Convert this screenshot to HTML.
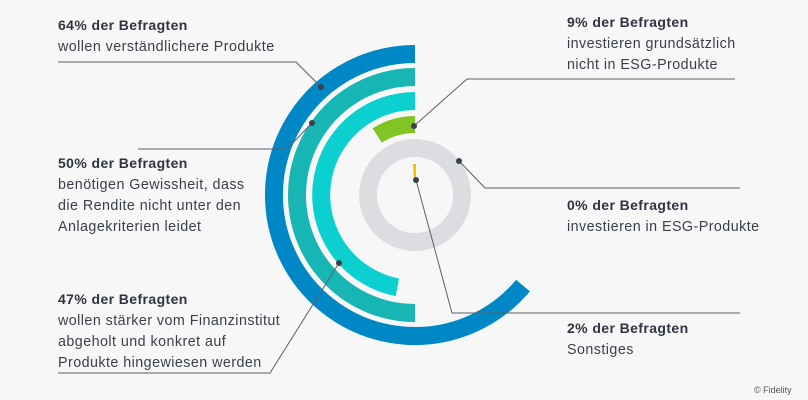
<!DOCTYPE html>
<html><head><meta charset="utf-8"><style>
html,body{margin:0;padding:0;background:#f7f7f7;}
svg{display:block;font-family:"Liberation Sans",sans-serif;}
.b{font-weight:bold;font-size:14px;fill:#2f3440;letter-spacing:0.4px;}
.t{font-size:14.3px;fill:#3a3f4a;letter-spacing:0.45px;}
</style></head><body>
<svg width="808" height="400" viewBox="0 0 808 400">
<rect width="808" height="400" fill="#f7f7f7"/>
<circle cx="415" cy="195" r="47" fill="none" stroke="#dcdde1" stroke-width="18"/>
<path d="M415 54 A141 141 0 1 0 523 285.6" fill="none" stroke="#0088c6" stroke-width="18"/>
<path d="M415 77 A118 118 0 0 0 297 195 A118 118 0 0 0 415 313" fill="none" stroke="#17b5b3" stroke-width="18"/>
<path d="M415 101 A94 94 0 0 0 397.4 287.3" fill="none" stroke="#0ccfcf" stroke-width="18"/>
<path d="M415 124.5 A70.5 70.5 0 0 0 377.2 135.5" fill="none" stroke="#80c524" stroke-width="17"/>
<polygon points="413,164 416,164 416,181 414,181" fill="#f5c000"/>
<g stroke="#5a5f68" stroke-width="1" fill="none">
<polyline points="58,62 296,62 321,87"/>
<polyline points="138,149 287,149 312,123"/>
<polyline points="58,373 270,373 339,263"/>
<polyline points="414,126 467,79 735,79"/>
<polyline points="459,161 485,188 740,188"/>
<polyline points="416,180 452,313 740,313"/>
</g>
<g fill="#3a3f4a">
<circle cx="321" cy="87" r="3"/><circle cx="312" cy="123" r="3"/><circle cx="339" cy="263" r="3"/>
<circle cx="414" cy="126" r="3"/><circle cx="459" cy="161" r="3"/><circle cx="416" cy="180" r="3"/>
</g>
<text class="b" x="58" y="30">64% der Befragten</text>
<text class="t" x="58" y="51">wollen verständlichere Produkte</text>
<text class="b" x="58" y="168">50% der Befragten</text>
<text class="t" x="58" y="189">benötigen Gewissheit, dass</text>
<text class="t" x="58" y="210">die Rendite nicht unter den</text>
<text class="t" x="58" y="231">Anlagekriterien leidet</text>
<text class="b" x="58" y="304">47% der Befragten</text>
<text class="t" x="58" y="325">wollen stärker vom Finanzinstitut</text>
<text class="t" x="58" y="346">abgeholt und konkret auf</text>
<text class="t" x="58" y="367">Produkte hingewiesen werden</text>
<text class="b" x="567" y="27">9% der Befragten</text>
<text class="t" x="567" y="48">investieren grundsätzlich</text>
<text class="t" x="567" y="69">nicht in ESG-Produkte</text>
<text class="b" x="567" y="210">0% der Befragten</text>
<text class="t" x="567" y="231">investieren in ESG-Produkte</text>
<text class="b" x="567" y="333">2% der Befragten</text>
<text class="t" x="567" y="354">Sonstiges</text>
<text x="754" y="393" font-size="9" fill="#555">© Fidelity</text>
</svg>
</body></html>
